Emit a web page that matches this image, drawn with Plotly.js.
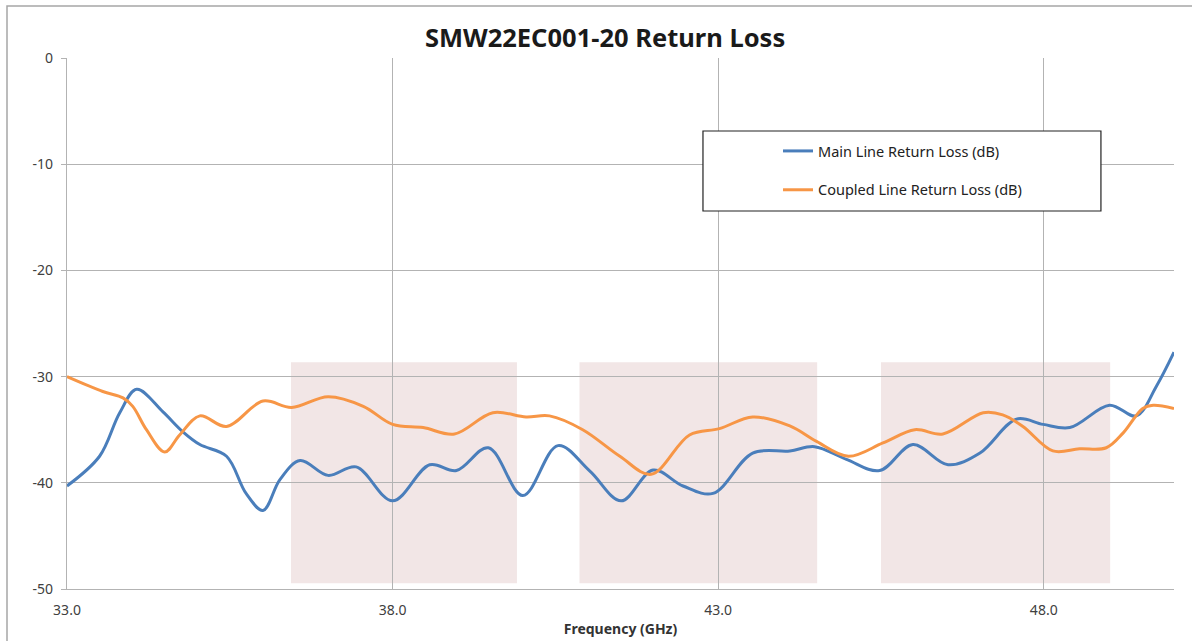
<!DOCTYPE html>
<html>
<head>
<meta charset="utf-8">
<script src="https://cdn.plot.ly/plotly-3.0.1.min.js"></script>
<style>html,body{margin:0;padding:0;background:#fff;}#chart{width:1192px;height:641px;}</style>
</head>
<body>
<div id="chart"></div>
<script>
// Main line return loss (dB)
var mainFreq = [33.0, 33.5, 33.81, 34.07, 34.47, 34.78, 35.04, 35.45, 35.75, 36.01, 36.27, 36.58, 37.01, 37.44, 38.0, 38.57, 38.98, 39.47, 40.0, 40.54, 41.03, 41.51, 42.0, 42.46, 42.92, 43.53, 44.1, 44.48, 44.97, 45.48, 45.99, 46.53, 47.02, 47.58, 47.99, 48.4, 49.01, 49.42, 49.73, 50.0];
var mainLoss = [-40.3, -37.5, -33.4, -31.2, -33.3, -35.2, -36.4, -37.5, -41.0, -42.6, -39.7, -37.9, -39.3, -38.5, -41.7, -38.3, -38.85, -36.7, -41.2, -36.5, -38.9, -41.7, -38.8, -40.3, -41.0, -37.2, -37.0, -36.6, -37.8, -38.85, -36.4, -38.3, -37.2, -34.0, -34.5, -34.8, -32.7, -33.7, -30.9, -27.7];
// Coupled line return loss (dB)
var coupledFreq = [33.0, 33.55, 33.86, 34.01, 34.22, 34.5, 34.73, 35.04, 35.45, 36.01, 36.45, 37.01, 37.55, 38.0, 38.47, 38.95, 39.54, 40.05, 40.41, 40.92, 41.49, 41.97, 42.56, 43.02, 43.53, 44.1, 44.51, 45.0, 45.53, 46.02, 46.45, 47.07, 47.37, 47.68, 48.14, 48.55, 48.96, 49.22, 49.52, 49.68, 50.0];
var coupledLoss = [-30.0, -31.4, -32.0, -32.8, -35.0, -37.1, -35.5, -33.7, -34.7, -32.3, -32.9, -31.9, -32.8, -34.5, -34.8, -35.4, -33.4, -33.8, -33.7, -35.0, -37.5, -39.2, -35.5, -34.9, -33.8, -34.65, -36.1, -37.5, -36.25, -35.0, -35.4, -33.4, -33.6, -34.7, -37.0, -36.8, -36.7, -35.3, -33.0, -32.7, -33.0];
// Shaded frequency bands (GHz) and their dB extent
var bandStart = [36.44, 40.87, 45.5];
var bandEnd = [39.91, 44.52, 49.02];
var bandTop = -28.66;
var bandBottom = -49.45;
// Axis ticks
var xTicks = [33, 38, 43, 48];
var xTickText = ['33.0', '38.0', '43.0', '48.0'];
var yTicks = [0, -10, -20, -30, -40, -50];
var yTickText = ['0', '-10', '-20', '-30', '-40', '-50'];

var FONT = '"Noto Sans", "Open Sans", sans-serif';

var traces = [
  {x: mainFreq, y: mainLoss, type: 'scatter', mode: 'lines', name: 'Main Line Return Loss (dB)',
   legendgroup: 'a', line: {color: '#4a7ebb', width: 3, shape: 'spline', smoothing: 1}},
  {x: coupledFreq, y: coupledLoss, type: 'scatter', mode: 'lines', name: 'Coupled Line Return Loss (dB)',
   legendgroup: 'b', line: {color: '#f79646', width: 3, shape: 'spline', smoothing: 1}}
];

var shapes = [];
for (var i = 0; i < bandStart.length; i++) {
  shapes.push({type: 'rect', xref: 'x', yref: 'y', x0: bandStart[i], x1: bandEnd[i], y0: bandBottom, y1: bandTop,
    fillcolor: 'rgb(242,230,230)', line: {width: 0}, layer: 'below'});
}
// legend box
shapes.push({type: 'rect', xref: 'paper', yref: 'paper', x0: 0.5745, x1: 0.934, y0: 0.7119, y1: 0.8625,
  fillcolor: 'rgba(255,255,255,1)', line: {color: '#222', width: 1.2}, layer: 'above'});
// outer chart border
shapes.push({type: 'rect', xref: 'paper', yref: 'paper', x0: -0.0542, x1: 1.03, y0: -0.2, y1: 1.098,
  fillcolor: 'rgba(0,0,0,0)', line: {color: '#a6a6a6', width: 1.5}, layer: 'above'});

var layout = {
  width: 1192, height: 641,
  margin: {l: 67, r: 18, t: 58, b: 52},
  paper_bgcolor: '#fff', plot_bgcolor: '#fff',
  font: {family: FONT, size: 14, color: '#404040'},
  title: {text: '<b>SMW22EC001-20 Return Loss</b>', xref: 'container', yref: 'container', x: 0.5076, y: 0.94,
    xanchor: 'center', yanchor: 'middle', font: {family: FONT, size: 25.5, color: '#1a1a1a'}},
  xaxis: {range: [33, 50], tickvals: xTicks, ticktext: xTickText, showgrid: true, gridcolor: '#b3b3b3', gridwidth: 1,
    showline: true, linecolor: '#b3b3b3', linewidth: 1.2, zeroline: false, ticks: '', ticklabelstandoff: 8,
    tickfont: {size: 14, color: '#404040'},
    title: {text: '<b>Frequency (GHz)</b>', standoff: 6, font: {size: 14, color: '#333'}}},
  yaxis: {range: [-50, 0], tickvals: yTicks, ticktext: yTickText, showgrid: true, gridcolor: '#b3b3b3', gridwidth: 1,
    showline: true, linecolor: '#b3b3b3', linewidth: 1.2, zeroline: false, ticks: 'outside', ticklen: 5, tickcolor: '#b3b3b3',
    ticklabelstandoff: 5, tickfont: {size: 14, color: '#404040'}},
  showlegend: true,
  legend: {x: 0.6423, y: 0.855, xanchor: 'left', yanchor: 'top', bgcolor: 'rgba(0,0,0,0)', borderwidth: 0,
    tracegroupgap: 17, font: {size: 14.5, color: '#222'}, itemwidth: 30},
  shapes: shapes
};

Plotly.newPlot('chart', traces, layout, {displayModeBar: false, staticPlot: true});
</script>
</body>
</html>
